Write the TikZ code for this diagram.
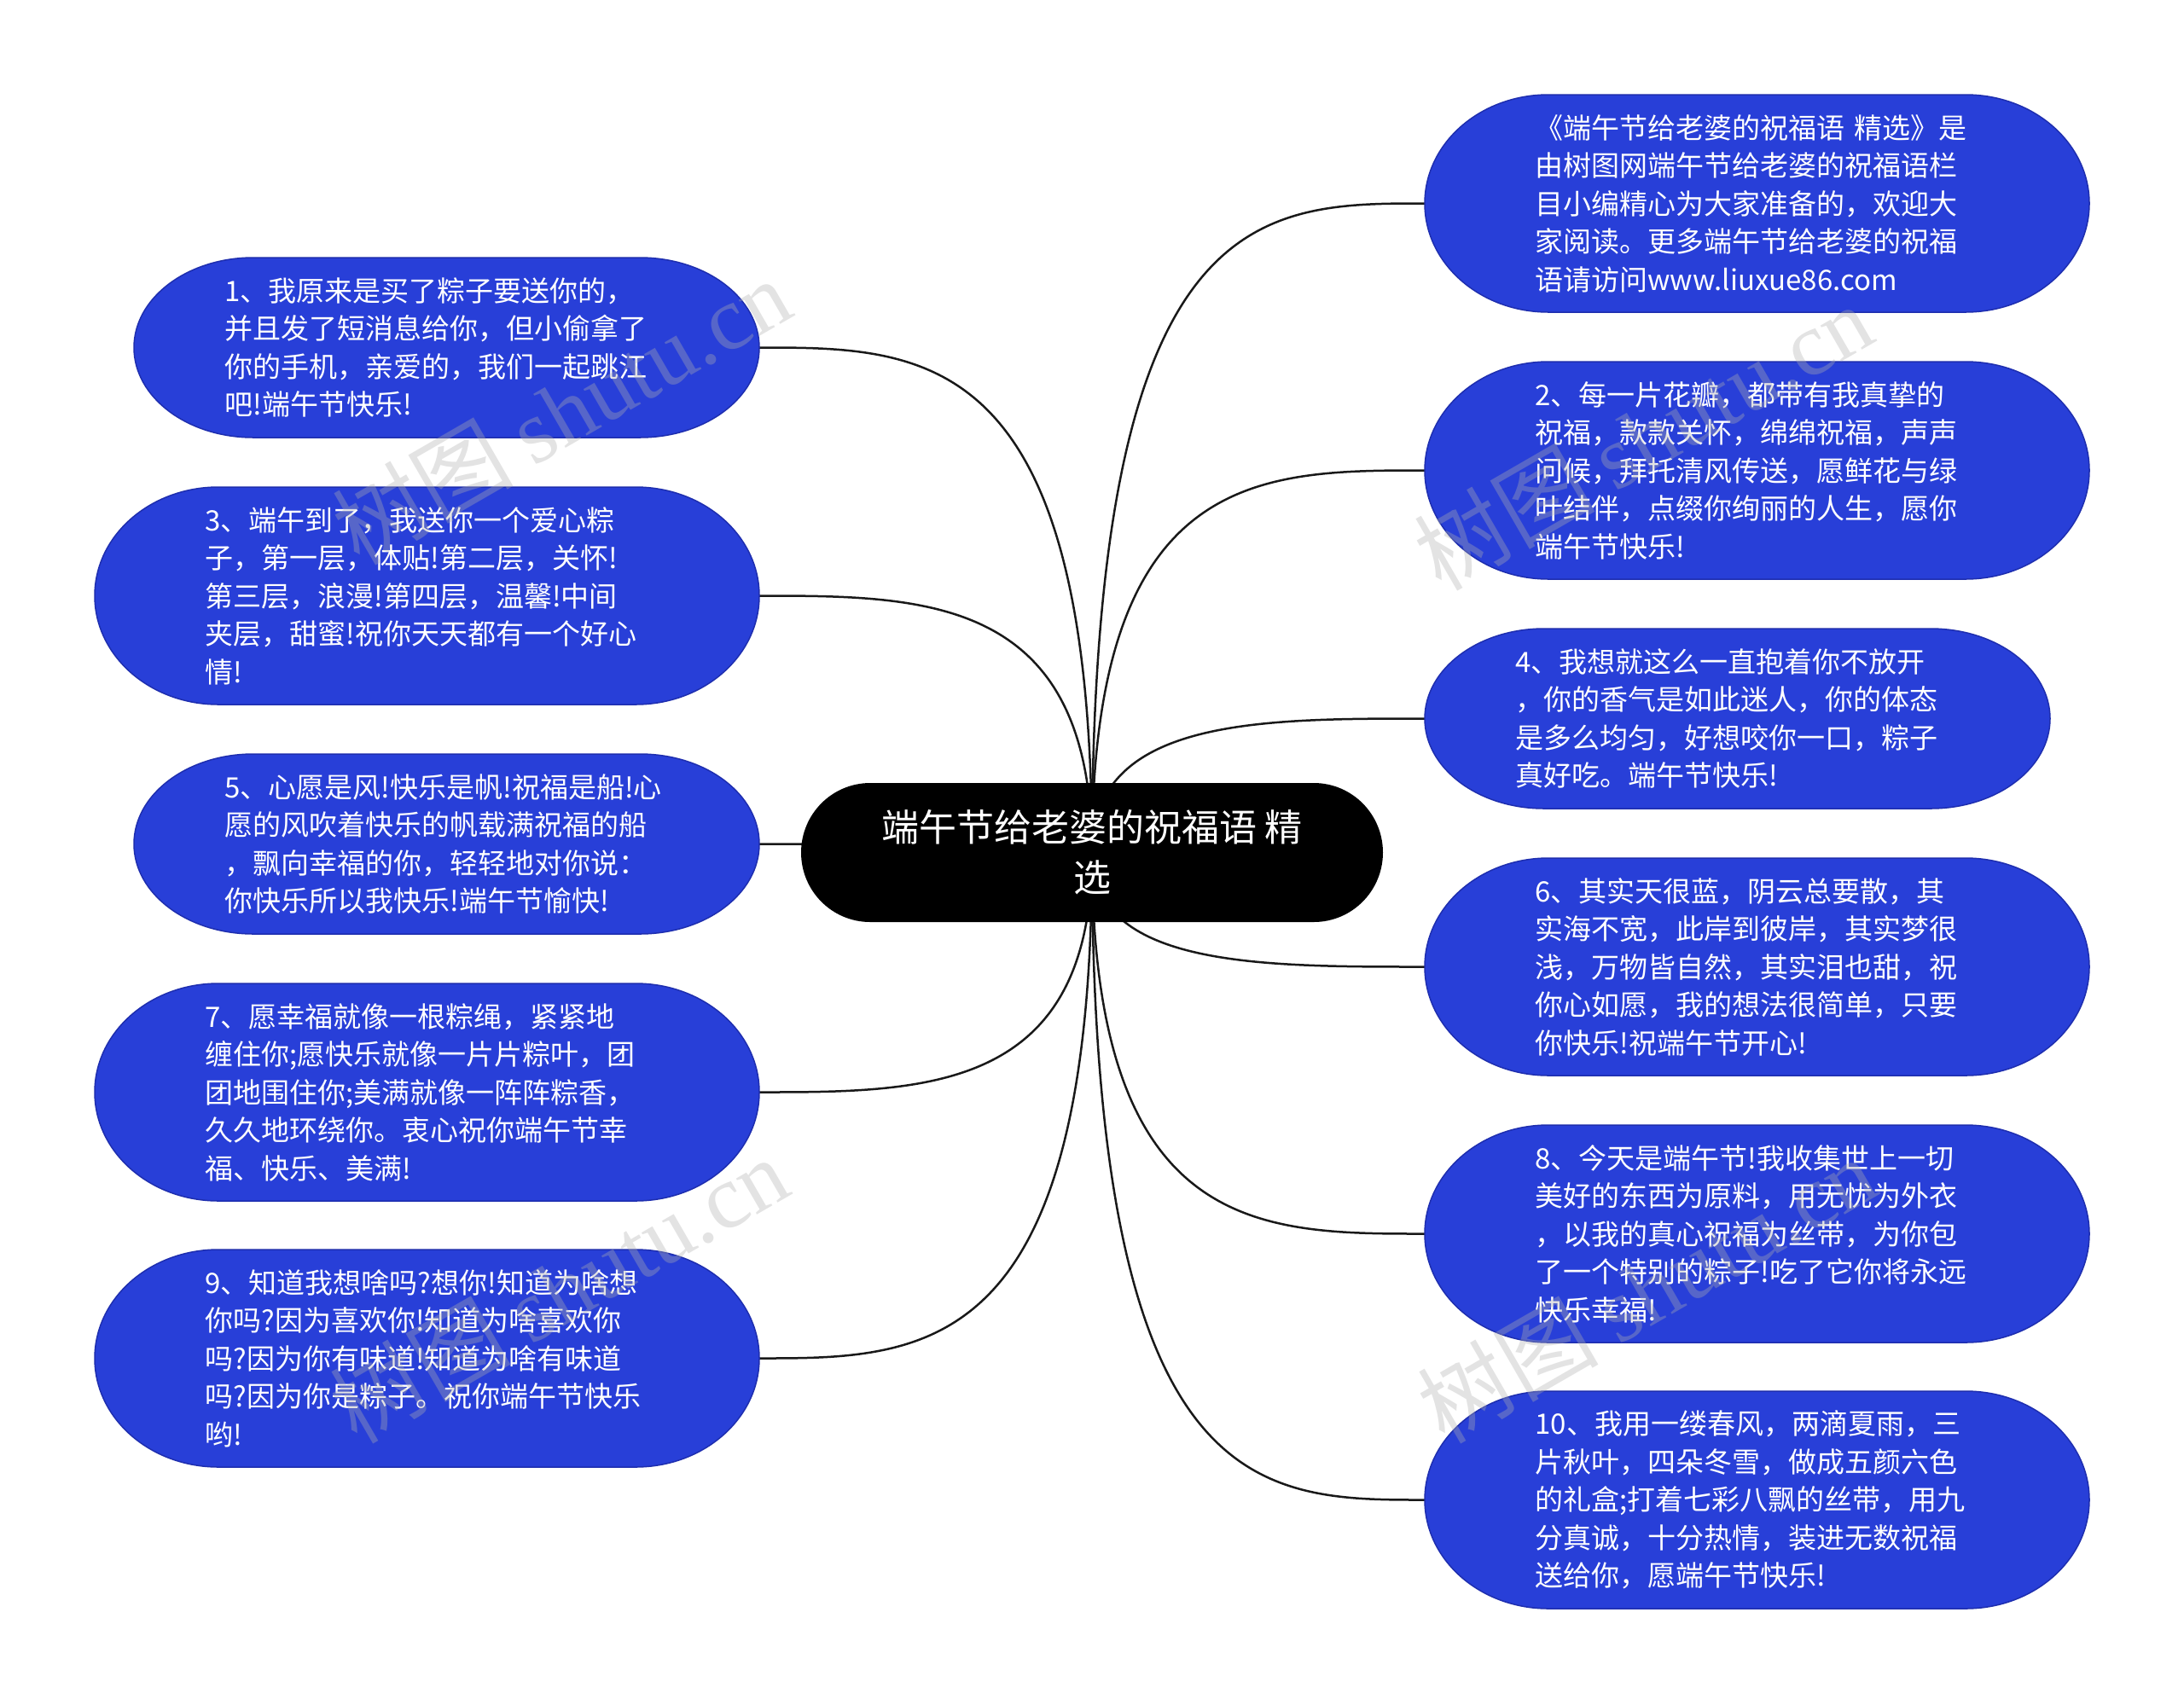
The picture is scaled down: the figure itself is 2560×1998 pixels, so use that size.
\documentclass[tikz,border=0pt]{standalone}
\usepackage{fontspec}
\setmainfont{Noto Sans CJK SC}
\newfontfamily\wmserif{Liberation Serif}
\usetikzlibrary{calc,backgrounds}
\definecolor{leafblue}{RGB}{40,63,216}
\definecolor{leafedge}{RGB}{30,46,175}
\definecolor{wmgray}{RGB}{175,175,175}
\tikzset{
  leaffill/.style={fill=leafblue, draw=leafedge, line width=1.5pt},
  rootfill/.style={fill=black},
  leaftext/.style={text=white, text width=520pt, align=left, inner sep=0pt,
    font=\fontsize{33}{44.5}\selectfont},
  roottext/.style={text=white, align=center, inner sep=0pt,
    font=\fontsize{44}{59}\selectfont},
  link/.style={draw=black!90, line width=2.5pt},
  watermark/.style={text=wmgray, opacity=0.35, rotate=30, inner sep=0pt,
    font=\fontsize{106}{110}\selectfont}
}
% #1 fill style, #2 text style, #3 name, #4 cx, #5 cy, #6 w, #7 h, #8 end x-radius, #9 text
\newcommand\pill[9]{%
  \pgfmathsetmacro\pillL{#4-#6/2}\pgfmathsetmacro\pillR{#4+#6/2}%
  \pgfmathsetmacro\pillT{#5-#7/2}\pgfmathsetmacro\pillB{#5+#7/2}%
  \pgfmathsetmacro\pillLi{\pillL+#8}\pgfmathsetmacro\pillRi{\pillR-#8}%
  \pgfmathsetmacro\pillKx{0.5523*#8}\pgfmathsetmacro\pillKy{0.5523*#7/2}%
  \path[#1] (\pillLi,\pillT) -- (\pillRi,\pillT)
    .. controls (\pillRi+\pillKx,\pillT) and (\pillR,#5-\pillKy) .. (\pillR,#5)
    .. controls (\pillR,#5+\pillKy) and (\pillRi+\pillKx,\pillB) .. (\pillRi,\pillB)
    -- (\pillLi,\pillB)
    .. controls (\pillLi-\pillKx,\pillB) and (\pillL,#5+\pillKy) .. (\pillL,#5)
    .. controls (\pillL,#5-\pillKy) and (\pillLi-\pillKx,\pillT) .. (\pillLi,\pillT) -- cycle;
  \node[#2, minimum width=#6pt, minimum height=#7pt] (#3) at (#4,#5) {#9};
}
\begin{document}
\begin{tikzpicture}[x=1pt,y=-1pt]
\useasboundingbox (0,0) rectangle (2560,1998);

% central node
\pill{rootfill}{roottext}{root}{1280}{999.5}{682}{163}{81}{端午节给老婆的祝福语 精\\选}

% left leaves
\pill{leaffill}{leaftext}{n1}{523.5}{407.5}{733}{211}{140}{1、我原来是买了粽子要送你的，\\并且发了短消息给你，但小偷拿了\\你的手机，亲爱的，我们一起跳江\\吧!端午节快乐!}
\pill{leaffill}{leaftext}{n3}{500.5}{698.5}{779}{255}{145}{3、端午到了，我送你一个爱心粽\\子，第一层，体贴!第二层，关怀!\\第三层，浪漫!第四层，温馨!中间\\夹层，甜蜜!祝你天天都有一个好心\\情!}
\pill{leaffill}{leaftext}{n5}{523.5}{989.5}{733}{211}{140}{5、心愿是风!快乐是帆!祝福是船!心\\愿的风吹着快乐的帆载满祝福的船\\，飘向幸福的你，轻轻地对你说：\\你快乐所以我快乐!端午节愉快!}
\pill{leaffill}{leaftext}{n7}{500.5}{1280.5}{779}{255}{145}{7、愿幸福就像一根粽绳，紧紧地\\缠住你;愿快乐就像一片片粽叶，团\\团地围住你;美满就像一阵阵粽香，\\久久地环绕你。衷心祝你端午节幸\\福、快乐、美满!}
\pill{leaffill}{leaftext}{n9}{500.5}{1592.5}{779}{255}{145}{9、知道我想啥吗?想你!知道为啥想\\你吗?因为喜欢你!知道为啥喜欢你\\吗?因为你有味道!知道为啥有味道\\吗?因为你是粽子。祝你端午节快乐\\哟!}

% right leaves
\pill{leaffill}{leaftext}{nt}{2059.5}{238.5}{779}{255}{145}{《端午节给老婆的祝福语 精选》是\\由树图网端午节给老婆的祝福语栏\\目小编精心为大家准备的，欢迎大\\家阅读。更多端午节给老婆的祝福\\语请访问www.liuxue86.com}
\pill{leaffill}{leaftext}{n2}{2059.5}{551.5}{779}{255}{145}{2、每一片花瓣，都带有我真挚的\\祝福，款款关怀，绵绵祝福，声声\\问候，拜托清风传送，愿鲜花与绿\\叶结伴，点缀你绚丽的人生，愿你\\端午节快乐!}
\pill{leaffill}{leaftext}{n4}{2036.5}{842.5}{733}{211}{140}{4、我想就这么一直抱着你不放开\\，你的香气是如此迷人，你的体态\\是多么均匀，好想咬你一口，粽子\\真好吃。端午节快乐!}
\pill{leaffill}{leaftext}{n6}{2059.5}{1133.5}{779}{255}{145}{6、其实天很蓝，阴云总要散，其\\实海不宽，此岸到彼岸，其实梦很\\浅，万物皆自然，其实泪也甜，祝\\你心如愿，我的想法很简单，只要\\你快乐!祝端午节开心!}
\pill{leaffill}{leaftext}{n8}{2059.5}{1446.5}{779}{255}{145}{8、今天是端午节!我收集世上一切\\美好的东西为原料，用无忧为外衣\\，以我的真心祝福为丝带，为你包\\了一个特别的粽子!吃了它你将永远\\快乐幸福!}
\pill{leaffill}{leaftext}{n10}{2059.5}{1758.5}{779}{255}{145}{10、我用一缕春风，两滴夏雨，三\\片秋叶，四朵冬雪，做成五颜六色\\的礼盒;打着七彩八飘的丝带，用九\\分真诚，十分热情，装进无数祝福\\送给你，愿端午节快乐!}

% watermark
\node[watermark] (wm1) at (658,482) {树图 {\wmserif shutu.cn}};
\node[watermark] (wm2) at (1926,512) {树图 {\wmserif shutu.cn}};
\node[watermark] (wm3) at (655,1512) {树图 {\wmserif shutu.cn}};
\node[watermark] (wm4) at (1930,1512) {树图 {\wmserif shutu.cn}};

\begin{scope}[on background layer]
  \fill[white] (0,0) rectangle (2560,1998);
  \foreach \n in {n1,n3,n5,n7,n9}
    \draw[link] (root.center) .. controls (root.center |- \n.east) and ($(root.center |- \n.east)!0.5!(\n.east)$) .. (\n.east);
  \foreach \n in {nt,n2,n4,n6,n8,n10}
    \draw[link] (root.center) .. controls (root.center |- \n.west) and ($(root.center |- \n.west)!0.5!(\n.west)$) .. (\n.west);
\end{scope}
\end{tikzpicture}
\end{document}
